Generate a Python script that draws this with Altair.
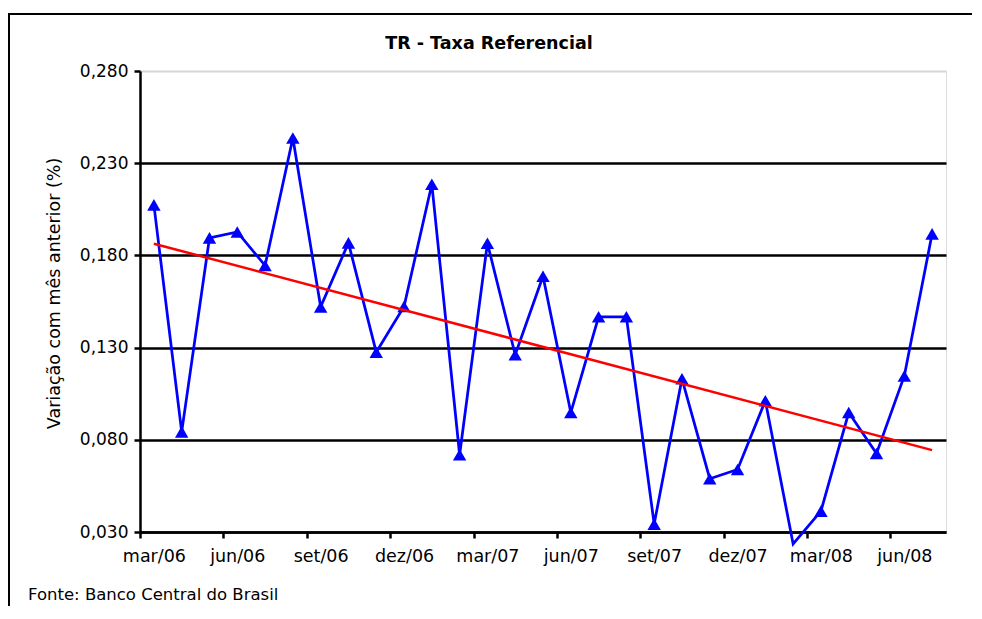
import altair as alt
import pandas as pd

# ---- data ----
months = ['mar/06', 'abr/06', 'mai/06', 'jun/06', 'jul/06', 'ago/06', 'set/06', 'out/06',
          'nov/06', 'dez/06', 'jan/07', 'fev/07', 'mar/07', 'abr/07', 'mai/07', 'jun/07',
          'jul/07', 'ago/07', 'set/07', 'out/07', 'nov/07', 'dez/07', 'jan/08', 'fev/08',
          'mar/08', 'abr/08', 'mai/08', 'jun/08', 'jul/08']
tr_values = [0.2074, 0.0843, 0.1895, 0.1927, 0.1745, 0.2437, 0.1521, 0.1868,
             0.1275, 0.1523, 0.2186, 0.0719, 0.1866, 0.1261, 0.1687, 0.0948,
             0.1467, 0.1467, 0.0343, 0.1131, 0.0589, 0.0639, 0.1012, 0.0235,
             0.0413, 0.0948, 0.0726, 0.1146, 0.1917]
y_ticks = [0.03, 0.08, 0.13, 0.18, 0.23, 0.28]
title_text = "TR - Taxa Referencial"
y_title = "Variação com mês anterior (%)"
source_text = "Fonte: Banco Central do Brasil"

df = pd.DataFrame({"idx": list(range(len(months))), "mes": months, "value": tr_values})

FONT = "DejaVu Sans"
W, H = 806, 461
n = len(months)
label_months = months[::3]
boundaries = [i - 0.5 for i in range(0, n, 3)]
js_arr = "[" + ",".join("'" + m + "'" for m in label_months) + "]"

x_enc = alt.X(
    "idx:Q",
    scale=alt.Scale(domain=[-0.5, n - 0.5], nice=False, zero=False),
    axis=alt.Axis(
        values=boundaries,
        labelExpr=js_arr + "[round((datum.value + 0.5) / 3)]",
        labelOffset=W / n / 2,
        labelFlush=False,
        labelOverlap=False,
        labelAlign="center",
        labelFont=FONT, labelFontSize=17.5, labelColor="black", labelPadding=9,
        grid=False,
        domainColor="black", domainWidth=2.5,
        tickColor="black", tickWidth=2.5, tickSize=6,
        title=None,
    ),
)
y_enc = alt.Y(
    "value:Q",
    scale=alt.Scale(domain=[0.03, 0.28], nice=False, zero=False),
    axis=alt.Axis(
        values=y_ticks,
        labelExpr="replace(format(datum.value, '.3f'), '.', ',')",
        labelFont=FONT, labelFontSize=17, labelColor="black", labelPadding=6,
        grid=True,
        gridColor={"condition": {"test": "datum.value > 0.275", "value": "#d6d6d6"}, "value": "#000000"},
        gridWidth={"condition": {"test": "datum.value > 0.275", "value": 2}, "value": 2.5},
        domainColor="black", domainWidth=2.5,
        tickColor="black", tickWidth=2.5, tickSize=6,
        title=y_title, titleFont=FONT, titleFontSize=17.5, titleFontWeight="normal",
        titleColor="black", titlePadding=16, titleY=222,
    ),
)

base = alt.Chart(df)

line = base.mark_line(color="#0000FF", strokeWidth=2.75, clip=False).encode(x=x_enc, y=y_enc)
points = base.mark_point(shape="triangle-up", filled=True, size=180, color="#0000FF",
                         opacity=1, clip=True).encode(x=x_enc, y=y_enc)
trend = base.transform_regression("idx", "value").mark_line(
    color="#FF0000", strokeWidth=2.5).encode(x=x_enc, y=y_enc)

note = alt.Chart(pd.DataFrame({"t": [source_text]})).mark_text(
    align="left", baseline="alphabetic", font=FONT, fontSize=16.5, color="black"
).encode(text="t:N", x=alt.value(-112), y=alt.value(529))

frame = alt.Chart(pd.DataFrame({"a": [0]})).mark_rect(
    fill="white", fillOpacity=0, stroke="black", strokeWidth=2
).encode(x=alt.value(-131), x2=alt.value(W + 200), y=alt.value(-57), y2=alt.value(H + 200))

chart = alt.layer(frame, line, points, trend, note).properties(
    width=W, height=H,
    title=alt.TitleParams(title_text, font=FONT, fontSize=17.5, fontWeight="bold",
                          color="black", anchor="middle", baseline="alphabetic",
                          dx=-54, dy=53, offset=0),
    padding={"left": 132, "top": 63, "right": 26, "bottom": 74},
    autosize=alt.AutoSizeParams(type="none"),
).configure_view(strokeWidth=0).configure(background="white")

chart.save("out.html", embed_options={"renderer": "svg", "actions": False})
